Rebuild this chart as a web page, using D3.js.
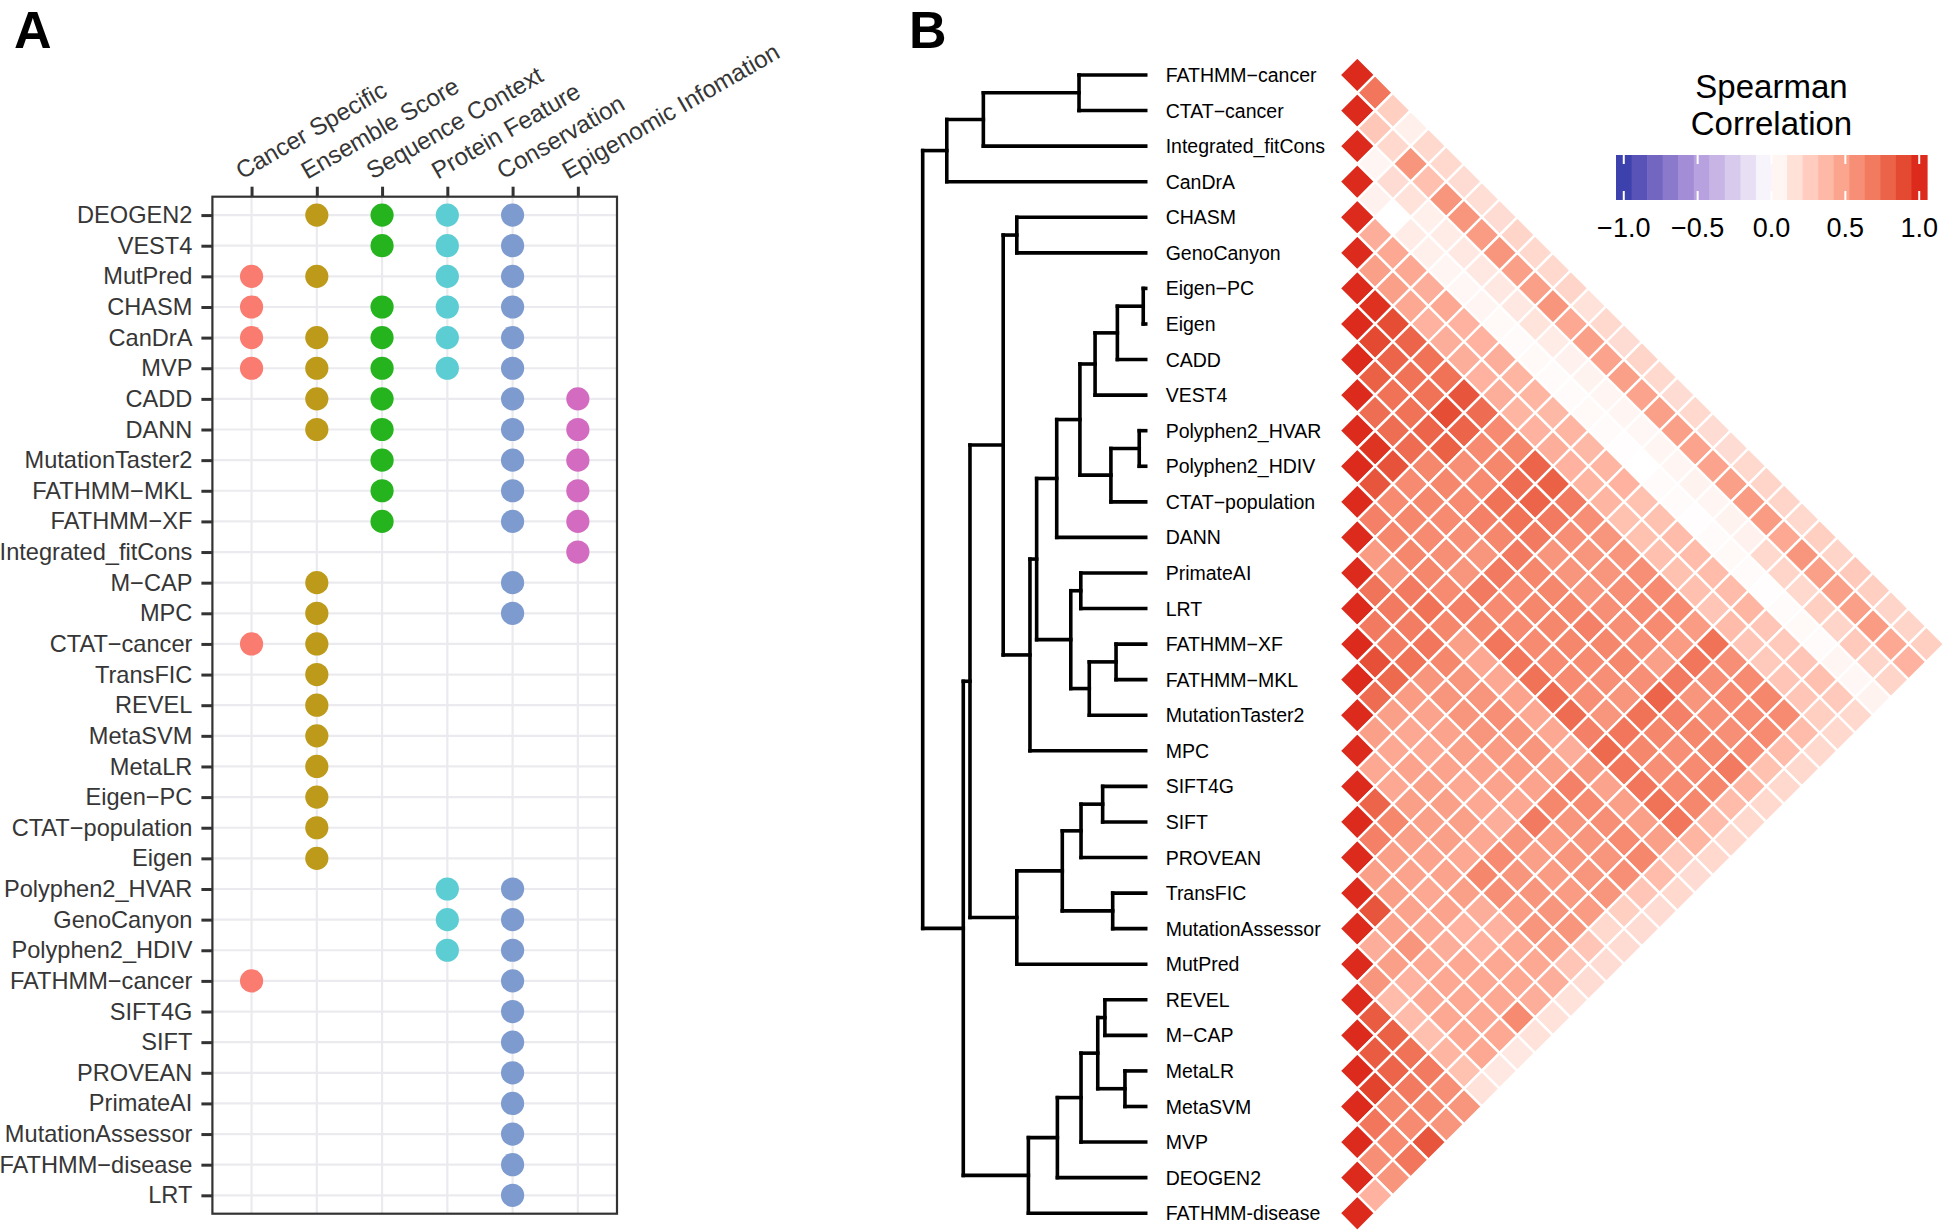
<!DOCTYPE html>
<html><head><meta charset="utf-8">
<script src="https://cdn.jsdelivr.net/npm/d3@7"></script>
<style>
body{margin:0;background:#fff;}
svg{display:block;font-family:"Liberation Sans",Arial,Helvetica,sans-serif;}
</style></head><body>
<svg id="chart" width="1944" height="1232"></svg>
<script>
// ---------------- DATA ----------------
const featureCategories = ["Cancer Specific","Ensemble Score","Sequence Context","Protein Feature","Conservation","Epigenomic Infomation"];
const featureColors = ["#FA7B70","#BD9A1A","#26B41E","#5BCDD3","#7E9BD0","#D36CC0"];
const toolsA = ["DEOGEN2","VEST4","MutPred","CHASM","CanDrA","MVP","CADD","DANN","MutationTaster2","FATHMM\u2212MKL","FATHMM\u2212XF","Integrated_fitCons","M\u2212CAP","MPC","CTAT\u2212cancer","TransFIC","REVEL","MetaSVM","MetaLR","Eigen\u2212PC","CTAT\u2212population","Eigen","Polyphen2_HVAR","GenoCanyon","Polyphen2_HDIV","FATHMM\u2212cancer","SIFT4G","SIFT","PROVEAN","PrimateAI","MutationAssessor","FATHMM\u2212disease","LRT"];
// indices into featureCategories, one list per tool in toolsA
const toolFeatures = [[1,2,3,4],[2,3,4],[0,1,3,4],[0,2,3,4],[0,1,2,3,4],[0,1,2,3,4],[1,2,4,5],[1,2,4,5],[2,4,5],[2,4,5],[2,4,5],[5],[1,4],[1,4],[0,1],[1],[1],[1],[1],[1],[1],[1],[3,4],[3,4],[3,4],[0,4],[4],[4],[4],[4],[4],[4],[4]];

const dendroLeaves = ["FATHMM\u2212cancer","CTAT\u2212cancer","Integrated_fitCons","CanDrA","CHASM","GenoCanyon","Eigen\u2212PC","Eigen","CADD","VEST4","Polyphen2_HVAR","Polyphen2_HDIV","CTAT\u2212population","DANN","PrimateAI","LRT","FATHMM\u2212XF","FATHMM\u2212MKL","MutationTaster2","MPC","SIFT4G","SIFT","PROVEAN","TransFIC","MutationAssessor","MutPred","REVEL","M\u2212CAP","MetaLR","MetaSVM","MVP","DEOGEN2","FATHMM-disease"];
// [node id, left child, right child, merge height]
const dendroMerges = [
 ["n1","Eigen\u2212PC","Eigen",0.011],
 ["n2","Polyphen2_HVAR","Polyphen2_HDIV",0.029],
 ["n3","MetaLR","MetaSVM",0.093],
 ["n4","n1","CADD",0.127],
 ["n5","FATHMM\u2212XF","FATHMM\u2212MKL",0.133],
 ["n6","TransFIC","MutationAssessor",0.148],
 ["n7","n2","CTAT\u2212population",0.156],
 ["n8","REVEL","M\u2212CAP",0.183],
 ["n9","SIFT4G","SIFT",0.193],
 ["n10","n8","n3",0.215],
 ["n11","n4","VEST4",0.227],
 ["n12","n5","MutationTaster2",0.253],
 ["n13","n9","PROVEAN",0.290],
 ["n14","n10","MVP",0.290],
 ["n15","PrimateAI","LRT",0.291],
 ["n16","n11","n7",0.295],
 ["n17","FATHMM\u2212cancer","CTAT\u2212cancer",0.299],
 ["n18","n15","n12",0.336],
 ["n19","n13","n6",0.374],
 ["n20","n14","DEOGEN2",0.396],
 ["n21","n16","DANN",0.399],
 ["n22","n21","n18",0.489],
 ["n23","n22","MPC",0.519],
 ["n24","n20","FATHMM-disease",0.526],
 ["n25","CHASM","GenoCanyon",0.578],
 ["n26","n19","MutPred",0.578],
 ["n27","n25","n23",0.639],
 ["n28","n17","Integrated_fitCons",0.728],
 ["n29","n27","n26",0.788],
 ["n30","n29","n24",0.818],
 ["n31","n28","CanDrA",0.892],
 ["n32","n31","n30",1.0]
];
// upper triangle of the Spearman correlation matrix (row i: values for j>i), in dendroLeaves order
const spearmanRows = [
 [.70,.25,.08,.20,.20,.18,.17,.18,.22,.20,.20,.22,.15,.20,.18,.22,.20,.18,.20,.18,.18,.20,.22,.22,.20,.25,.22,.28,.25,.22,.22,.25],
 [.29,.20,.55,.33,.55,.55,.52,.55,.50,.50,.55,.45,.50,.48,.50,.48,.50,.50,.48,.48,.50,.52,.52,.45,.55,.50,.50,.50,.52,.45,.40],
 [.05,.18,.15,.08,.10,.12,.12,.12,.12,.14,.10,.07,.06,.05,.05,.04,.05,.05,.06,.05,.06,.07,.20,.22,.20,.25,.22,.28,.22,.22],
 [.07,.00,.10,.08,.05,.04,.05,.03,.02,.03,.02,.02,.03,.02,.01,.00,.02,.02,.01,.02,.03,.02,.01,.02,.03,.02,.05,.04,.06],
 [.42,.45,.45,.42,.45,.40,.40,.42,.38,.38,.37,.38,.37,.38,.40,.32,.32,.35,.35,.35,.35,.38,.30,.28,.30,.33,.28,.20],
 [.50,.50,.45,.40,.42,.42,.40,.42,.38,.40,.42,.40,.38,.38,.32,.32,.33,.32,.33,.30,.35,.30,.28,.30,.30,.25,.20],
 [.98,.88,.78,.72,.72,.85,.75,.60,.62,.78,.80,.68,.58,.55,.55,.58,.60,.60,.52,.72,.58,.60,.62,.60,.35,.20],
 [.90,.78,.72,.72,.88,.78,.60,.62,.75,.78,.68,.58,.55,.55,.58,.60,.60,.52,.70,.58,.60,.60,.60,.35,.20],
 [.80,.72,.72,.78,.80,.58,.60,.72,.72,.68,.55,.55,.55,.58,.58,.58,.50,.68,.55,.58,.58,.60,.32,.20],
 [.74,.74,.75,.62,.62,.60,.65,.62,.68,.62,.62,.62,.65,.62,.62,.58,.78,.65,.62,.62,.68,.38,.20],
 [.97,.86,.60,.62,.60,.58,.55,.68,.60,.62,.62,.62,.60,.58,.55,.72,.62,.58,.60,.62,.35,.20],
 [.85,.60,.62,.60,.58,.55,.68,.60,.60,.60,.60,.60,.58,.55,.70,.62,.58,.60,.62,.35,.20],
 [.65,.62,.62,.62,.60,.65,.62,.70,.70,.72,.75,.75,.65,.76,.70,.70,.72,.70,.38,.20],
 [.52,.55,.68,.72,.62,.50,.45,.45,.48,.45,.45,.42,.55,.48,.50,.50,.50,.28,.18],
 [.71,.68,.67,.70,.62,.55,.55,.58,.55,.55,.50,.65,.60,.58,.60,.62,.35,.20],
 [.68,.67,.72,.55,.55,.55,.55,.52,.52,.48,.62,.55,.55,.55,.58,.30,.18],
 [.87,.76,.52,.48,.48,.50,.48,.48,.45,.68,.52,.55,.55,.55,.25,.18],
 [.75,.50,.45,.45,.48,.45,.45,.42,.55,.50,.52,.52,.52,.20,.18],
 [.50,.45,.48,.50,.50,.50,.45,.60,.55,.55,.55,.55,.30,.18],
 [.45,.45,.50,.50,.50,.45,.62,.58,.52,.55,.50,.30,.18],
 [.78,.62,.50,.48,.48,.50,.42,.40,.45,.45,.42,.15],
 [.65,.50,.48,.45,.48,.40,.40,.45,.45,.42,.15],
 [.50,.50,.48,.45,.42,.45,.45,.45,.60,.15],
 [.85,.48,.55,.45,.45,.45,.45,.45,.12],
 [.42,.50,.40,.45,.45,.45,.45,.12],
 [.55,.35,.35,.33,.38,.32,.15],
 [.82,.80,.72,.68,.58,.55],
 [.82,.78,.68,.62,.55],
 [.92,.62,.60,.85],
 [.70,.60,.70],
 [.58,.55],
 [.40]
];
const legendTicks = [-1,-0.5,0,0.5,1];
const legendBins = 20;

// ---------------- DRAW ----------------
const svg = d3.select("#chart");
const font = '"Liberation Sans",Arial,Helvetica,sans-serif';

// panel letters
svg.append("text").attr("x",14).attr("y",47.5).attr("font-size",52).attr("font-weight","bold").text("A");
svg.append("text").attr("x",909).attr("y",47.5).attr("font-size",52).attr("font-weight","bold").text("B");

// ---- Panel A ----
const A = {left:212.4,right:617,top:196.7,bottom:1213.7};
const xA = d3.scalePoint().domain(featureCategories).range([A.left,A.right]).padding(0.6);
const yA = d3.scalePoint().domain(toolsA).range([A.top,A.bottom]).padding(0.6);
const gA = svg.append("g");
gA.append("rect").attr("x",A.left).attr("y",A.top).attr("width",A.right-A.left).attr("height",A.bottom-A.top).attr("fill","#fff");
gA.selectAll("line.vg").data(featureCategories).join("line").attr("class","vg")
  .attr("x1",d=>xA(d)).attr("x2",d=>xA(d)).attr("y1",A.top).attr("y2",A.bottom)
  .attr("stroke","#EBEBEF").attr("stroke-width",2.2);
gA.selectAll("line.hg").data(toolsA).join("line").attr("class","hg")
  .attr("y1",d=>yA(d)).attr("y2",d=>yA(d)).attr("x1",A.left).attr("x2",A.right)
  .attr("stroke","#EBEBEF").attr("stroke-width",2.2);
const pts = toolsA.flatMap((t,i)=>toolFeatures[i].map(c=>({t,c})));
gA.selectAll("circle").data(pts).join("circle")
  .attr("cx",d=>xA(featureCategories[d.c])).attr("cy",d=>yA(d.t)).attr("r",11.6)
  .attr("fill",d=>featureColors[d.c]);
gA.append("rect").attr("x",A.left).attr("y",A.top).attr("width",A.right-A.left).attr("height",A.bottom-A.top)
  .attr("fill","none").attr("stroke","#333").attr("stroke-width",2.2);

const yAx = gA.append("g").attr("transform",`translate(${A.left},0)`)
  .call(d3.axisLeft(yA).tickSize(11).tickPadding(9));
yAx.select(".domain").remove();
yAx.selectAll(".tick line").attr("stroke","#333").attr("stroke-width",3);
yAx.selectAll(".tick text").attr("font-size",23.6).attr("font-family",font).attr("fill","#363636");

const xAx = gA.append("g").attr("transform",`translate(0,${A.top})`)
  .call(d3.axisTop(xA).tickSize(10));
xAx.select(".domain").remove();
xAx.selectAll(".tick line").attr("stroke","#333").attr("stroke-width",3);
xAx.selectAll(".tick text").attr("font-size",24.2).attr("font-family",font).attr("fill","#363636")
  .attr("x",0).attr("y",0).attr("dy",null).attr("text-anchor","start")
  .attr("transform","translate(-10,-17) rotate(-30)");

// ---- Panel B: dendrogram ----
const yLeaf = d3.scalePoint().domain(dendroLeaves).range([75,1213.2]);
const stepB = yLeaf.step();
const xH = d3.scaleLinear().domain([0,1]).range([1145.7,922.7]);
const nodePos = {};
dendroLeaves.forEach(l=>nodePos[l]={x:xH(0),y:yLeaf(l)});
const segs = [];
dendroMerges.forEach(([id,a,b,h])=>{
  const pa=nodePos[a], pb=nodePos[b], x=xH(h);
  nodePos[id]={x:x,y:(pa.y+pb.y)/2};
  segs.push([x,pa.y,x,pb.y],[x,pa.y,pa.x,pa.y],[x,pb.y,pb.x,pb.y]);
});
const gD = svg.append("g");
gD.selectAll("line").data(segs).join("line")
  .attr("x1",d=>d[0]).attr("y1",d=>d[1]).attr("x2",d=>d[2]).attr("y2",d=>d[3])
  .attr("stroke","#000").attr("stroke-width",3.6).attr("stroke-linecap","square");
gD.selectAll("text").data(dendroLeaves).join("text")
  .attr("x",1165.7).attr("y",d=>yLeaf(d)).attr("dy","0.36em")
  .attr("font-size",19.5).attr("fill","#000").text(d=>d);

// ---- heatmap ----
const color = d3.scaleLinear().domain([-1,-0.5,0,1])
  .range(["#3D41AD","#B49CDD","#FFFFFF","#DC2A1C"]).interpolate(d3.interpolateLab).clamp(true);
const xCell = d3.scaleLinear().domain([0,dendroLeaves.length-1]).range([1357.3,1357.3+(dendroLeaves.length-1)*stepB/2]);
const cells=[];
dendroLeaves.forEach((a,i)=>{
  dendroLeaves.forEach((b,j)=>{
    if(j<i) return;
    const v = i===j?1:spearmanRows[i][j-i-1];
    cells.push({cx:xCell(j-i),cy:(yLeaf(a)+yLeaf(b))/2,v});
  });
});
const hh = stepB/2;
svg.append("g").selectAll("polygon").data(cells).join("polygon")
  .attr("points",d=>[[d.cx-hh,d.cy],[d.cx,d.cy-hh],[d.cx+hh,d.cy],[d.cx,d.cy+hh]].join(" "))
  .attr("fill",d=>color(d.v)).attr("stroke","#fff").attr("stroke-width",2.4);

// ---- legend ----
const L = {x0:1616,x1:1927,y0:155,y1:200};
const bw = (L.x1-L.x0)/legendBins;
const binVals = d3.range(legendBins).map(k=>-1+2*k/(legendBins-1));
const xLeg = d3.scaleLinear().domain([-1,1]).range([L.x0+bw/2,L.x1-bw/2]);
const gL = svg.append("g");
gL.selectAll("rect").data(binVals).join("rect")
  .attr("x",(d,k)=>L.x0+k*bw).attr("y",L.y0).attr("width",bw+0.6).attr("height",L.y1-L.y0)
  .attr("fill",d=>color(d));
legendTicks.forEach(t=>{
  const x=xLeg(t);
  gL.append("line").attr("x1",x).attr("x2",x).attr("y1",L.y0).attr("y2",L.y0+9).attr("stroke","#fff").attr("stroke-width",2);
  gL.append("line").attr("x1",x).attr("x2",x).attr("y1",L.y1-9).attr("y2",L.y1).attr("stroke","#fff").attr("stroke-width",2);
});
gL.selectAll("text.tk").data(legendTicks).join("text").attr("class","tk")
  .attr("x",d=>xLeg(d)).attr("y",237).attr("text-anchor","middle").attr("font-size",27).attr("fill","#000")
  .text(d=>d3.format(".1f")(d));
gL.append("text").attr("x",(L.x0+L.x1)/2).attr("y",98).attr("text-anchor","middle").attr("font-size",33).text("Spearman");
gL.append("text").attr("x",(L.x0+L.x1)/2).attr("y",135).attr("text-anchor","middle").attr("font-size",33).text("Correlation");
</script>
</body></html>
